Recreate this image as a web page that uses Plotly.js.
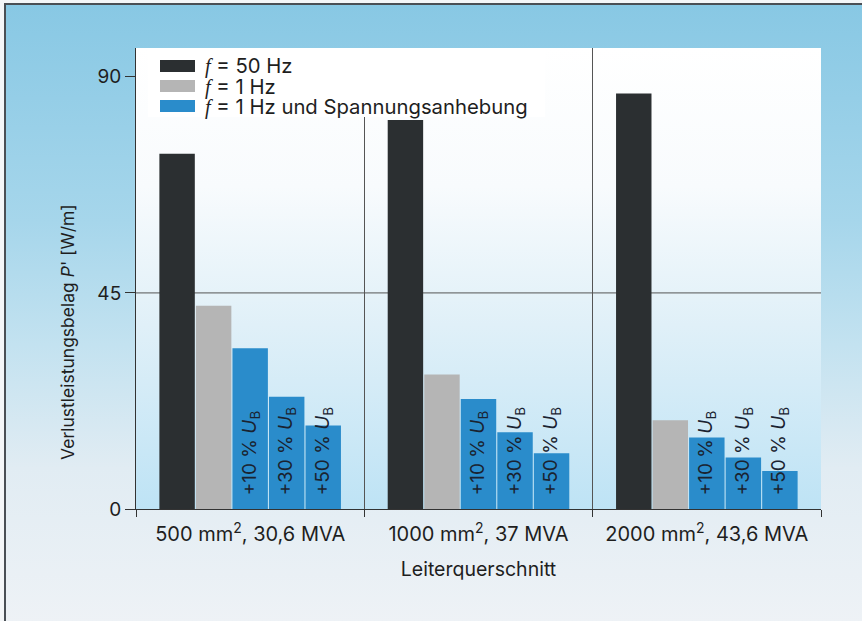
<!DOCTYPE html>
<html>
<head>
<meta charset="utf-8">
<script src="https://cdn.plot.ly/plotly-3.0.1.min.js"></script>
<style>
  html, body { margin: 0; padding: 0; background: #f4f6f8; }
  #frame {
    position: absolute; left: 4px; top: 3px; width: 858px; height: 618px;
    border-left: 2px solid #4a4f55; border-top: 2px solid #4a4f55;
    background: linear-gradient(to bottom, #88c8e4 0%, #a6d6eb 35%, #c3e2f0 55%, #e1ecf3 75%, #eef2f6 100%);
  }
  #chart { position: absolute; left: 0; top: 0; width: 862px; height: 621px; }
</style>
</head>
<body>
<div id="frame"></div>
<div id="chart"></div>
<script>
// ---- data ----
const categories = ["500 mm<sup>2</sup>, 30,6 MVA", "1000 mm<sup>2</sup>, 37 MVA", "2000 mm<sup>2</sup>, 43,6 MVA"];
const loss50Hz = [74.0, 81.0, 86.5];
const loss1Hz = [42.3, 28.0, 18.5];
const loss1HzPlus10 = [33.5, 22.9, 14.9];
const loss1HzPlus30 = [23.4, 16.0, 10.7];
const loss1HzPlus50 = [17.4, 11.6, 7.9];
const raiseLabels = ["+10 % <i>U</i><sub>B</sub>", "+30 % <i>U</i><sub>B</sub>", "+50 % <i>U</i><sub>B</sub>"];
const fSym = "<span style=\"font-family:'Liberation Serif'\"><i>f</i></span>";
const legendNames = [fSym + " = 50 Hz", fSym + " = 1 Hz", fSym + " = 1 Hz und Spannungsanhebung"];
const yTicks = [0, 45, 90];
const gridY = [45];
const xTitle = 'Leiterquerschnitt';
const yTitle = "Verlustleistungsbelag <i>P</i>' [W/m]";

const cBlack = '#2b2f31', cGray = '#b5b5b5', cBlue = '#2a8ccb';
const FONT = 'Inter, "Liberation Sans", Arial, sans-serif';
const TXT = '#1e1e1e';

function barTrace(y, color, name, label) {
  const t = {
    type: 'bar', x: categories, y: y, name: name, showlegend: false,
    marker: { color: color, line: { width: 0 } },
    hoverinfo: 'x+y'
  };
  if (label) {
    t.texttemplate = '\u00a0\u00a0' + label;
    t.textposition = 'inside';
    t.insidetextanchor = 'start';
    t.textangle = -90;
    t.constraintext = 'none';
    t.cliponaxis = false;
    t.textfont = { family: FONT, size: 19, color: '#1a2330' };
  }
  return t;
}

const traces = [
  barTrace(loss50Hz, cBlack, legendNames[0]),
  barTrace(loss1Hz, cGray, legendNames[1]),
  barTrace(loss1HzPlus10, cBlue, legendNames[2], raiseLabels[0]),
  barTrace(loss1HzPlus30, cBlue, legendNames[2], raiseLabels[1]),
  barTrace(loss1HzPlus50, cBlue, legendNames[2], raiseLabels[2]),
];

// plot-area gradient
const gradSvg = "<svg xmlns='http://www.w3.org/2000/svg' width='100' height='100' preserveAspectRatio='none'>" +
  "<defs><linearGradient id='g' x1='0' y1='0' x2='0' y2='1'>" +
  "<stop offset='0' stop-color='#ffffff'/><stop offset='0.3' stop-color='#f8fbfd'/>" +
  "<stop offset='0.6' stop-color='#e0f0f8'/><stop offset='1' stop-color='#bee3f5'/>" +
  "</linearGradient></defs><rect width='100' height='100' fill='url(#g)'/></svg>";

// manual legend (wide swatches, tight rows like the original)
const M = { l: 136, r: 41, t: 48, b: 112 };
const PW = 862 - M.l - M.r, PH = 621 - M.t - M.b;
const px2x = p => (p - M.l) / PW;
const px2y = p => (621 - M.b - p) / PH;
const legendRowsPx = [66, 86, 106];
const legendColors = [cBlack, cGray, cBlue];

const shapes = gridY.map(v => ({
  type: 'line', xref: 'paper', x0: 0, x1: 1, yref: 'y', y0: v, y1: v,
  line: { color: '#555', width: 1 }, layer: 'below'
}));
shapes.push({
  type: 'rect', xref: 'paper', yref: 'paper',
  x0: px2x(148), x1: px2x(545), y0: px2y(117), y1: 1,
  fillcolor: '#ffffff', line: { width: 0 }, layer: 'above'
});
legendRowsPx.forEach((r, i) => {
  shapes.push({
    type: 'rect', xref: 'paper', yref: 'paper',
    x0: px2x(160), x1: px2x(195), y0: px2y(r + 6), y1: px2y(r - 6),
    fillcolor: legendColors[i], line: { width: 0 }, layer: 'above'
  });
});
const annotations = legendRowsPx.map((r, i) => ({
  xref: 'paper', yref: 'paper', x: px2x(203), y: px2y(r),
  xanchor: 'left', yanchor: 'middle', showarrow: false,
  text: legendNames[i], font: { family: FONT, size: 20.3, color: TXT }
}));
annotations.push({
  xref: 'paper', yref: 'paper', x: px2x(68), y: px2y(332),
  xanchor: 'center', yanchor: 'middle', showarrow: false, textangle: -90,
  text: yTitle, font: { family: FONT, size: 17.5, color: TXT }
});

const layout = {
  width: 862, height: 621,
  margin: M,
  paper_bgcolor: 'rgba(0,0,0,0)',
  plot_bgcolor: 'rgba(0,0,0,0)',
  font: { family: FONT, size: 19, color: TXT },
  barmode: 'group', bargap: 0.2, bargroupgap: 0.03,
  showlegend: false,
  xaxis: {
    type: 'category',
    showline: true, linecolor: '#333', linewidth: 1,
    ticks: 'outside', ticklen: 7, tickcolor: '#333', tickson: 'boundaries',
    ticklabelstandoff: 7,
    showgrid: true, gridcolor: '#555', gridwidth: 1,
    tickfont: { family: FONT, size: 20, color: TXT },
    title: { text: xTitle, font: { family: FONT, size: 19.5, color: TXT }, standoff: 17 },
    fixedrange: true
  },
  yaxis: {
    range: [0, 96],
    tickvals: yTicks, ticktext: yTicks.map(String),
    showline: true, linecolor: '#333', linewidth: 1,
    ticks: 'outside', ticklen: 10, tickcolor: '#333',
    showgrid: false, zeroline: false,
    tickfont: { family: FONT, size: 19, color: TXT },
    fixedrange: true
  },
  shapes: shapes,
  annotations: annotations,
  images: [{
    source: 'data:image/svg+xml;charset=utf-8,' + encodeURIComponent(gradSvg),
    xref: 'paper', yref: 'paper', x: 0, y: 1, sizex: 1, sizey: 1,
    xanchor: 'left', yanchor: 'top', sizing: 'stretch', layer: 'below'
  }]
};

Plotly.newPlot('chart', traces, layout, { displayModeBar: false, staticPlot: true });
</script>
</body>
</html>
